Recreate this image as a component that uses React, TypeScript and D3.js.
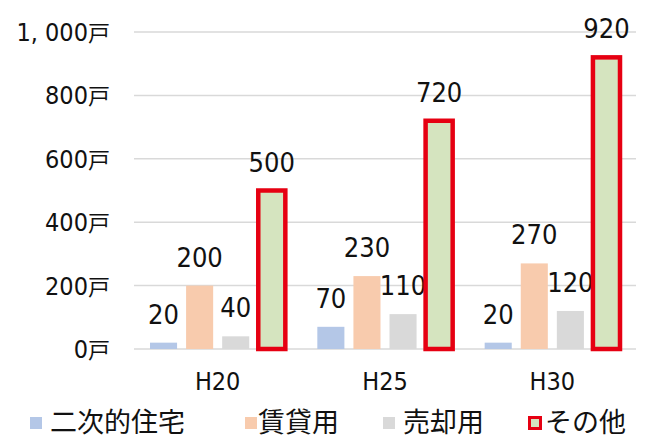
import { useEffect, useRef } from 'react';
import * as d3 from 'd3';

const categories = ['H20', 'H25', 'H30'];
const seriesNames = ['二次的住宅', '賃貸用', '売却用', 'その他'];
const secondary = [20, 70, 20];
const rental = [200, 230, 270];
const forSale = [40, 110, 120];
const other = [500, 720, 920];
const yTicks = [0, 200, 400, 600, 800, 1000];

const FILLS = ['#b4c7e7', '#f8cbad', '#d9d9d9', '#d5e4bf'];
const RED = '#e60012';
const NUM_FONT = '"Liberation Sans Narrow", "DejaVu Sans Condensed", "Liberation Sans", sans-serif';
const CJK_FONT = '"Noto Sans CJK JP", sans-serif';

const W = 648;
const H = 441;

export default function App() {
  const svgRef = useRef<SVGSVGElement>(null);

  useEffect(() => {
    if (!svgRef.current) return;
    const svg = d3.select(svgRef.current);
    svg.selectAll('*').remove();

    const series = [secondary, rental, forSale, other];
    const plot = { left: 134, right: 636, top: 32, bottom: 349 };

    const y = d3.scaleLinear().domain([0, 1000]).range([plot.bottom, plot.top]);
    const x0 = d3.scaleBand<string>().domain(categories).range([plot.left, plot.right]);
    const x1 = d3.scaleBand<number>()
      .domain(d3.range(series.length))
      .range([16, x0.bandwidth() - 16])
      .paddingInner(0.25);

    // グリッド線
    svg.append('g')
      .selectAll('line')
      .data(yTicks)
      .join('line')
      .attr('x1', plot.left)
      .attr('x2', plot.right)
      .attr('y1', d => y(d))
      .attr('y2', d => y(d))
      .attr('stroke', '#d9d9d9')
      .attr('stroke-width', 1.5);

    // 目盛りラベル
    svg.append('g')
      .selectAll('text')
      .data(yTicks)
      .join('text')
      .attr('x', 110)
      .attr('y', d => y(d) + 9)
      .attr('text-anchor', 'end')
      .attr('font-family', NUM_FONT)
      .attr('font-size', 25)
      .attr('fill', '#111')
      .each(function (d) {
        const t = d3.select(this);
        t.append('tspan').text(d3.format(',')(d).replace(',', ', '));
        t.append('tspan').attr('font-family', CJK_FONT).attr('font-size', 22).text('戸');
      });

    // 棒
    const groups = svg.append('g')
      .selectAll('g')
      .data(categories)
      .join('g')
      .attr('transform', d => `translate(${x0(d)},0)`);

    series.forEach((vals, si) => {
      groups.append('rect')
        .attr('x', x1(si)!)
        .attr('width', x1.bandwidth())
        .attr('y', (_, gi) => y(vals[gi]))
        .attr('height', (_, gi) => plot.bottom - y(vals[gi]))
        .attr('fill', FILLS[si])
        .attr('stroke', si === 3 ? RED : 'none')
        .attr('stroke-width', si === 3 ? 4.5 : 0);

      groups.append('text')
        .attr('x', x1(si)! + x1.bandwidth() / 2)
        .attr('y', (_, gi) => y(vals[gi]) - 19)
        .attr('text-anchor', 'middle')
        .attr('font-family', NUM_FONT)
        .attr('font-size', 27)
        .attr('fill', '#111')
        .text((_, gi) => String(vals[gi]));
    });

    // カテゴリラベル
    svg.append('g')
      .selectAll('text')
      .data(categories)
      .join('text')
      .attr('x', d => x0(d)! + x0.bandwidth() / 2)
      .attr('y', 390)
      .attr('text-anchor', 'middle')
      .attr('font-family', NUM_FONT)
      .attr('font-size', 25)
      .attr('fill', '#111')
      .text(d => d);

    // 凡例
    const legendX = [30, 245, 383, 528];
    const legend = svg.append('g')
      .selectAll('g')
      .data(seriesNames)
      .join('g')
      .attr('transform', (_, i) => `translate(${legendX[i]},417)`);

    legend.append('rect')
      .attr('x', (_, i) => (i === 3 ? 1.5 : 0))
      .attr('y', (_, i) => (i === 3 ? 0.5 : 0))
      .attr('width', (_, i) => (i === 3 ? 11 : 12))
      .attr('height', (_, i) => (i === 3 ? 11 : 12))
      .attr('fill', (_, i) => FILLS[i])
      .attr('stroke', (_, i) => (i === 3 ? RED : 'none'))
      .attr('stroke-width', (_, i) => (i === 3 ? 3 : 0));

    legend.append('text')
      .attr('x', (_, i) => (i === 0 ? 20 : i === 3 ? 17 : 13 + (i === 2 ? 7 : 0)))
      .attr('y', 15)
      .attr('font-family', CJK_FONT)
      .attr('font-size', 27)
      .attr('fill', '#111')
      .text(d => d);
  }, []);

  return (
    <svg
      ref={svgRef}
      width={W}
      height={H}
      style={{ position: 'absolute', left: 0, top: 0, background: '#fff' }}
    />
  );
}
